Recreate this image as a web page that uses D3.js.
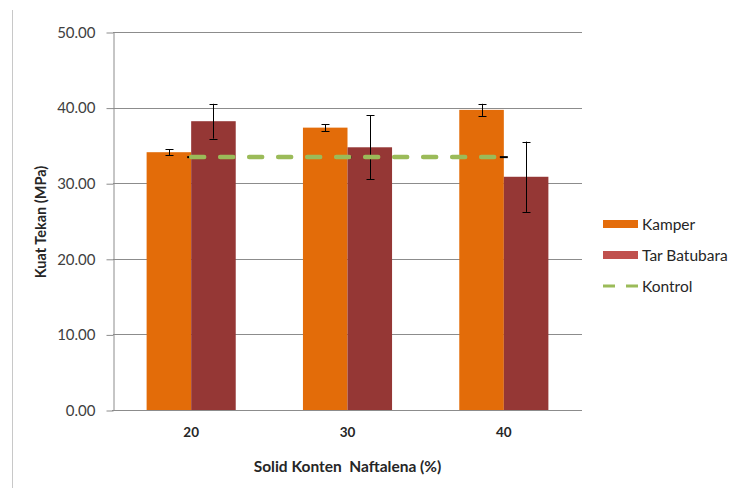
<!DOCTYPE html>
<html>
<head>
<meta charset="utf-8">
<script src="https://cdn.jsdelivr.net/npm/d3@7"></script>
<style>
  html, body { margin: 0; padding: 0; background: #fff; }
  svg { display: block; font-family: Lato, "Open Sans", sans-serif; }
</style>
</head>
<body>
<svg id="chart" width="729" height="488"></svg>
<script>
const categories = ["20", "30", "40"];
const seriesNames = ["Kamper", "Tar Batubara"];
const kamper = [34.1, 37.35, 39.7];
const kamperErr = [0.4, 0.45, 0.8];
const tarBatubara = [38.2, 34.75, 30.85];
const tarErr = [2.3, 4.25, 4.65];
const kontrol = [33.45, 33.45, 33.45];
const kontrolErr = [0, 0, 0];
const yTicks = [0, 10, 20, 30, 40, 50];
const barColors = ["#E36C09", "#953735"];
const legendColors = ["#E46C0A", "#C0504D", "#9BBB59"];

const svg = d3.select("#chart");
const plot = { left: 113, right: 582, top: 32, bottom: 410 };

const y = d3.scaleLinear().domain([0, 50]).range([plot.bottom, plot.top]);
const x0 = d3.scaleBand().domain(categories).range([plot.left, plot.right])
  .paddingInner(0.43).paddingOuter(0.215);
const x1 = d3.scaleBand().domain(seriesNames).range([0, x0.bandwidth()]);
const xc = d3.scalePoint().domain(categories).range([plot.left, plot.right]).padding(0.5);

// outer border on the left
svg.append("line").attr("x1", 12.5).attr("x2", 12.5).attr("y1", 10).attr("y2", 488)
  .attr("stroke", "#c8c8c8").attr("stroke-width", 1);

// gridlines
svg.append("g").selectAll("line").data(yTicks.filter(d => d > 0)).join("line")
  .attr("x1", plot.left).attr("x2", plot.right)
  .attr("y1", d => Math.round(y(d)) + 0.5).attr("y2", d => Math.round(y(d)) + 0.5)
  .attr("stroke", "#8c8c8c").attr("stroke-width", 1);

// y axis
const yAxis = d3.axisLeft(y).tickValues(yTicks).tickFormat(d3.format(".2f"))
  .tickSizeOuter(0).tickSizeInner(7).tickPadding(11);
const gy = svg.append("g").attr("transform", `translate(${plot.left + 0.5},0.5)`).call(yAxis);
gy.select(".domain").attr("stroke", "#8c8c8c");
gy.selectAll(".tick line").attr("stroke", "#8c8c8c");
gy.selectAll(".tick text").attr("font-size", 15).attr("fill", "#404040")
  .attr("font-family", "Lato, sans-serif");

// bars
const groups = svg.append("g").selectAll("g").data(categories).join("g")
  .attr("transform", d => `translate(${x0(d)},0)`);
const seriesVals = [kamper, tarBatubara];
const seriesErrs = [kamperErr, tarErr];
groups.selectAll("rect").data((d, i) => seriesNames.map((s, j) => ({ s, v: seriesVals[j][i], e: seriesErrs[j][i], j })))
  .join("rect")
  .attr("x", d => x1(d.s)).attr("width", x1.bandwidth())
  .attr("y", d => y(d.v)).attr("height", d => y(0) - y(d.v))
  .attr("fill", d => barColors[d.j]);

// error bars for bars
const errG = svg.append("g").attr("stroke", "#000").attr("stroke-width", 1);
categories.forEach((c, i) => {
  seriesNames.forEach((s, j) => {
    const cx = Math.round(x0(c) + x1(s) + x1.bandwidth() / 2) + 0.5;
    const v = seriesVals[j][i], e = seriesErrs[j][i];
    errG.append("line").attr("x1", cx).attr("x2", cx).attr("y1", y(v + e)).attr("y2", y(v - e));
    [v + e, v - e].forEach(t => errG.append("line")
      .attr("x1", cx - 4).attr("x2", cx + 4).attr("y1", Math.round(y(t)) + 0.5).attr("y2", Math.round(y(t)) + 0.5));
  });
});

// kontrol error caps (zero-size)
categories.forEach((c, i) => {
  const cx = xc(c);
  errG.append("line").attr("x1", cx - 4).attr("x2", cx + 4)
    .attr("y1", y(kontrol[i] + kontrolErr[i])).attr("y2", y(kontrol[i] + kontrolErr[i]))
    .attr("stroke-width", 2);
});

// kontrol dashed line
const line = d3.line().x((d, i) => xc(categories[i])).y(d => y(d));
svg.append("path").datum(kontrol).attr("d", line)
  .attr("fill", "none").attr("stroke", "#9BBB59").attr("stroke-width", 4.5)
  .attr("stroke-linecap", "round").attr("stroke-dasharray", "13,16");

// x axis
const xAxis = d3.axisBottom(x0).tickSize(0).tickPadding(17);
const gx = svg.append("g").attr("transform", `translate(0,${plot.bottom + 0.5})`).call(xAxis);
gx.select(".domain").attr("stroke", "#8c8c8c").attr("d", `M${plot.left - 1},0H${plot.right}`);
gx.selectAll(".tick text").attr("font-size", 13.5).attr("font-weight", "bold").attr("fill", "#262626")
  .attr("font-family", "Lato, sans-serif");

// axis titles
svg.append("text").attr("transform", `translate(46,222) rotate(-90)`)
  .attr("text-anchor", "middle").attr("font-size", 14.5).attr("font-weight", "bold").attr("fill", "#262626")
  .text("Kuat Tekan (MPa)");
svg.append("text").attr("x", (plot.left + plot.right) / 2).attr("y", 472)
  .attr("text-anchor", "middle").attr("font-size", 15.5).attr("font-weight", "bold").attr("fill", "#262626")
  .style("white-space", "pre").text("Solid Konten  Naftalena (%)");

// legend
const legendNames = ["Kamper", "Tar Batubara", "Kontrol"];
const leg = svg.append("g");
legendNames.forEach((n, i) => {
  const cy = 224 + i * 31;
  if (i < 2) {
    leg.append("rect").attr("x", 603).attr("y", cy - 4).attr("width", 35).attr("height", 8)
      .attr("fill", legendColors[i]);
  } else {
    leg.append("line").attr("x1", 603).attr("x2", 638).attr("y1", cy).attr("y2", cy)
      .attr("stroke", legendColors[i]).attr("stroke-width", 3).attr("stroke-dasharray", "12,11");
  }
  leg.append("text").attr("x", 642).attr("y", cy + 5.5).attr("font-size", 15.5).attr("fill", "#262626")
    .text(n);
});
</script>
</body>
</html>
